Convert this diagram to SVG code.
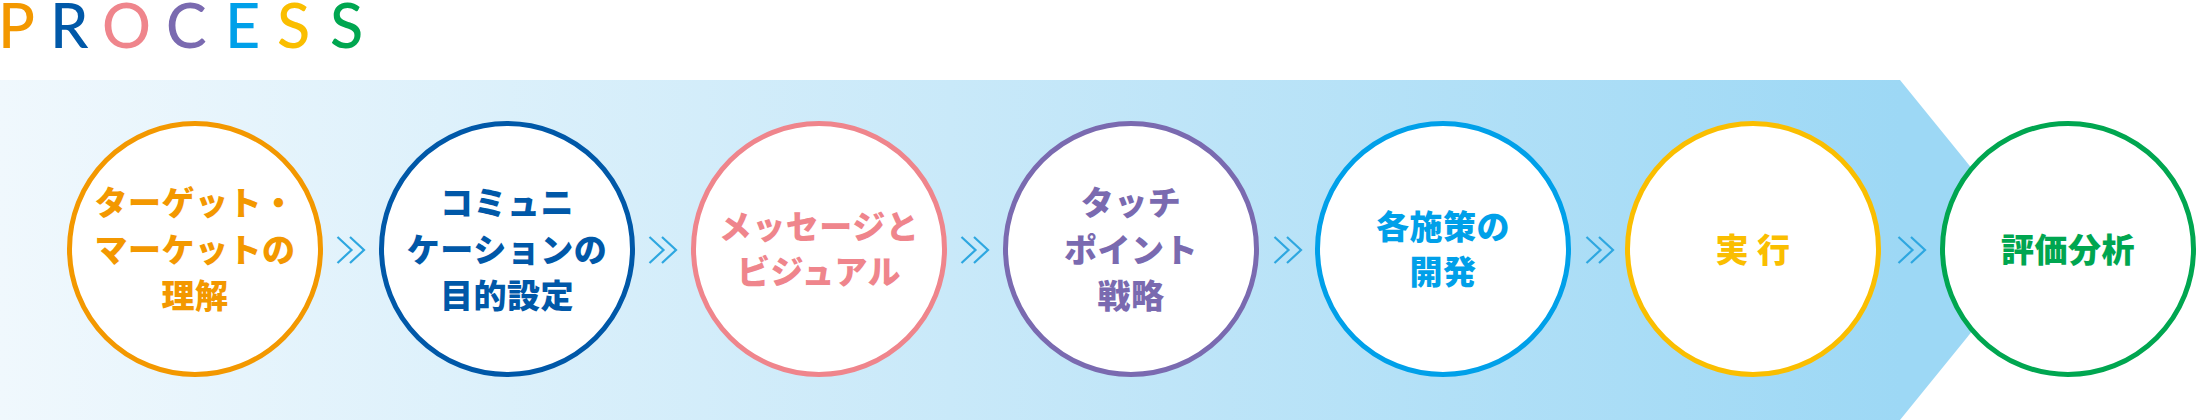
<svg xmlns="http://www.w3.org/2000/svg" width="2200" height="420" viewBox="0 0 2200 420">
  <defs>
    <linearGradient id="band" x1="0" y1="0" x2="1900" y2="0" gradientUnits="userSpaceOnUse">
      <stop offset="0" stop-color="#f0f8fd"/>
      <stop offset="0.5" stop-color="#c9e9f9"/>
      <stop offset="1" stop-color="#9dd8f5"/>
    </linearGradient>
    <g id="chev" fill="none" stroke="#2ea7e0" stroke-width="2.2">
      <polyline points="-13.5,237 0.5,250 -13.5,263"/>
      <polyline points="-1,237 13,250 -1,263"/>
    </g>
  </defs>
  <style>
    .title { font-family: Lato, "Noto Sans", "Liberation Sans", sans-serif; font-size: 61px; font-weight: 500; }
    .node circle { fill: #ffffff; stroke-width: 5; }
    .node text { font-family: "Noto Sans CJK JP", "Noto Sans", sans-serif; font-size: 33px; font-weight: 900; text-anchor: middle; letter-spacing: 0.5px; }
  </style>
  <rect width="2200" height="420" fill="#ffffff"/>
  <text class="title" y="48">
    <tspan x="-2" fill="#f39800">P</tspan><tspan x="50" fill="#0058a8">R</tspan><tspan x="102" fill="#ef858c">O</tspan><tspan x="166" fill="#7a6ab0">C</tspan><tspan x="225" fill="#00a0e9">E</tspan><tspan x="277" fill="#fabe00">S</tspan><tspan x="330" fill="#00a650">S</tspan>
  </text>
  <polygon points="0,80 1900,80 2038,250 1900,420 0,420" fill="url(#band)"/>
  <g id="connectors" fill="none" stroke="#2ea7e0" stroke-width="2.2">
    <use href="#chev" x="351"/>
    <use href="#chev" x="663"/>
    <use href="#chev" x="975"/>
    <use href="#chev" x="1288"/>
    <use href="#chev" x="1600"/>
    <use href="#chev" x="1912"/>
  </g>
  <g id="n1" class="node">
    <circle cx="195" cy="249" r="125.5" stroke="#f39800"/>
    <text fill="#f39800"><tspan x="195" y="215">ターゲット・</tspan><tspan x="195" y="262">マーケットの</tspan><tspan x="195" y="308">理解</tspan></text>
  </g>
  <g id="n2" class="node">
    <circle cx="507" cy="249" r="125.5" stroke="#0058a8"/>
    <text fill="#0058a8"><tspan x="507" y="215">コミュニ</tspan><tspan x="507" y="262">ケーションの</tspan><tspan x="507" y="308">目的設定</tspan></text>
  </g>
  <g id="n3" class="node">
    <circle cx="819" cy="249" r="125.5" stroke="#ef858c"/>
    <text fill="#ef858c"><tspan x="819" y="239">メッセージと</tspan><tspan x="819" y="284">ビジュアル</tspan></text>
  </g>
  <g id="n4" class="node">
    <circle cx="1131" cy="249" r="125.5" stroke="#7a6ab0"/>
    <text fill="#7a6ab0"><tspan x="1131" y="215">タッチ</tspan><tspan x="1131" y="262">ポイント</tspan><tspan x="1131" y="308">戦略</tspan></text>
  </g>
  <g id="n5" class="node">
    <circle cx="1443" cy="249" r="125.5" stroke="#00a0e9"/>
    <text fill="#00a0e9"><tspan x="1443" y="239">各施策の</tspan><tspan x="1443" y="284">開発</tspan></text>
  </g>
  <g id="n6" class="node">
    <circle cx="1753" cy="249" r="125.5" stroke="#fabe00"/>
    <text fill="#fabe00" x="1753" y="262">実 行</text>
  </g>
  <g id="n7" class="node">
    <circle cx="2068" cy="249" r="125.5" stroke="#00a650"/>
    <text fill="#00a650" x="2068" y="262">評価分析</text>
  </g>
</svg>
